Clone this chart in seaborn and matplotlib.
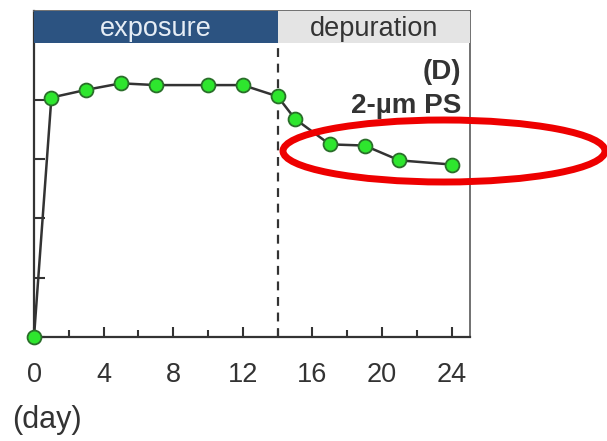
import matplotlib
matplotlib.use("Agg")
import matplotlib.pyplot as plt
import seaborn as sns
import pandas as pd
from matplotlib.patches import Rectangle, Ellipse
from matplotlib.transforms import blended_transform_factory
from matplotlib.ticker import MultipleLocator

# Data (arbitrary units; y axis has no labels in the reference)
days = [0, 1, 3, 5, 7, 10, 12, 14, 15, 17, 19, 21, 24]
values = [0.0, 4.04, 4.17, 4.28, 4.25, 4.25, 4.25, 4.06, 3.68, 3.25, 3.23, 2.98, 2.91]
x_ticks = [0, 4, 8, 12, 16, 20, 24]
phase_labels = ["exposure", "depuration"]
phase_bounds = [0, 14, 25.06]

sns.set_style("ticks")
plt.rcParams["font.family"] = ["Liberation Sans", "DejaVu Sans"]

W, H = 607, 441
fig = plt.figure(figsize=(W / 100, H / 100), dpi=100)
ax = fig.add_axes([34 / W, 1 - 337 / H, (470 - 34) / W, (337 - 11) / H])

df = pd.DataFrame({"day": days, "value": values})
sns.lineplot(data=df, x="day", y="value", ax=ax, color="#333333", linewidth=1.8,
             marker="o", markersize=10, markerfacecolor="#2ee62e",
             markeredgecolor="#2a6e2a", markeredgewidth=1.3, clip_on=False, zorder=5)
for ln in ax.lines:
    ln.set_markerfacecolor("#2ee62e")
    ln.set_markeredgecolor("#2a6e2a")

ax.set_xlim(0, phase_bounds[-1])
ax.set_ylim(0, 5.5)

header_frac = 32 / 326
hdr_bottom = 1 - header_frac
trans = blended_transform_factory(ax.transData, ax.transAxes)
colors = ["#2c5381", "#e4e4e4"]
txt_colors = ["#e6edf5", "#333333"]
for i, lab in enumerate(phase_labels):
    x0, x1 = phase_bounds[i], phase_bounds[i + 1]
    ax.add_patch(Rectangle((x0, hdr_bottom), x1 - x0, header_frac, transform=trans,
                           facecolor=colors[i], edgecolor="none", zorder=3, clip_on=False))
    ax.text((x0 + x1) / 2, hdr_bottom + header_frac / 2 - 0.006, lab, transform=trans,
            ha="center", va="center", fontsize=19.5, color=txt_colors[i], zorder=4)

ax.plot([14, 14], [0, hdr_bottom], transform=trans, color="#333333",
        linestyle=(0, (4, 3)), linewidth=1.6, zorder=2)

ax.text(0.98, 0.813, "(D)", transform=ax.transAxes, ha="right", va="center",
        fontsize=20, fontweight="bold", color="#333333")
ax.text(0.98, 0.71, "2-µm PS", transform=ax.transAxes, ha="right", va="center",
        fontsize=20, fontweight="bold", color="#333333")

ax.set_xticks(x_ticks)
ax.xaxis.set_minor_locator(MultipleLocator(2))
ax.set_yticks([0, 1, 2, 3, 4])
ax.set_yticklabels([])
ax.tick_params(axis="both", which="both", direction="in", color="#333333")
ax.tick_params(axis="x", which="major", length=7, width=1.5, labelsize=19.5,
               labelcolor="#333333", pad=18)
ax.tick_params(axis="x", which="minor", length=5, width=1.5)
ax.tick_params(axis="y", which="major", length=8, width=1.5)
ax.set_xlabel("")
ax.set_ylabel("")

for side in ["left", "bottom"]:
    ax.spines[side].set_color("#333333")
    ax.spines[side].set_linewidth(1.6)
for side in ["right", "top"]:
    ax.spines[side].set_visible(True)
    ax.spines[side].set_color("#666666")
    ax.spines[side].set_linewidth(1.3)

fig.text(12 / W, 1 - 420 / H, "(day)", ha="left", va="center", fontsize=22, color="#333333")

ell = Ellipse((444 / W, 1 - 151 / H), 322 / W, 62 / H, transform=fig.transFigure,
              facecolor="none", edgecolor="#ee0000", linewidth=5)
fig.patches.append(ell)

fig.savefig("out.png", dpi=100)
